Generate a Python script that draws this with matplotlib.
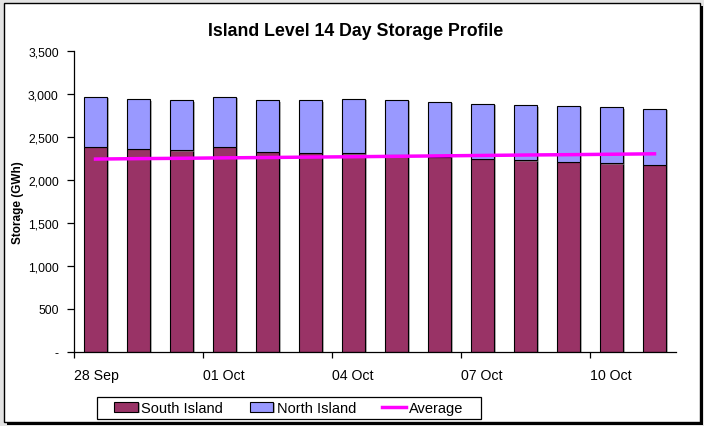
import matplotlib.pyplot as plt
import matplotlib.patheffects as pe
from matplotlib.patches import Rectangle
from matplotlib.ticker import FuncFormatter
import numpy as np

plt.rcParams['font.family'] = ['Liberation Sans', 'DejaVu Sans']

# --- dados ---
dias = ["28 Sep", "29 Sep", "30 Sep", "01 Oct", "02 Oct", "03 Oct", "04 Oct",
        "05 Oct", "06 Oct", "07 Oct", "08 Oct", "09 Oct", "10 Oct", "11 Oct"]
sul = [2382, 2359, 2340, 2382, 2321, 2313, 2306,
       2286, 2267, 2244, 2225, 2206, 2190, 2171]
total = [2964, 2937, 2921, 2964, 2921, 2925, 2941,
         2929, 2906, 2883, 2864, 2856, 2844, 2825]
media = [2240, 2245, 2249, 2254, 2258, 2263, 2267,
         2272, 2277, 2282, 2287, 2291, 2296, 2301]
rotulos_x = ["28 Sep", "01 Oct", "04 Oct", "07 Oct", "10 Oct"]

norte = np.array(total) - np.array(sul)
x = np.arange(len(dias)) + 0.5

fig = plt.figure(figsize=(7.04, 4.27), dpi=100)
fig.patch.set_facecolor('#e3e3e3')

# moldura branca com sombra
moldura = Rectangle((4 / 704, 4 / 427), 696 / 704, 419 / 427, transform=fig.transFigure,
                    facecolor='white', edgecolor='black', linewidth=1.0, zorder=-10,
                    path_effects=[pe.SimplePatchShadow(offset=(2, -2), shadow_rgbFace='black', alpha=1),
                                  pe.Normal()])
fig.patches.append(moldura)

ax = fig.add_axes([74 / 704, 1 - 352.7 / 427, (676 - 74) / 704, (352.7 - 51.7) / 427])
ax.set_facecolor('none')

sombra = [pe.SimplePatchShadow(offset=(1.5, -1), shadow_rgbFace='grey', alpha=0.6), pe.Normal()]
b1 = ax.bar(x, sul, width=0.52, color='#993366', edgecolor='black', linewidth=0.8,
            label='South Island', path_effects=sombra, zorder=2)
b2 = ax.bar(x, norte, bottom=sul, width=0.52, color='#9999ff', edgecolor='black', linewidth=0.8,
            label='North Island', path_effects=sombra, zorder=2)
l1, = ax.plot(x, media, color='#ff00ff', linewidth=2.5, label='Average', zorder=3)

ax.set_xlim(0, 14)
ax.set_ylim(0, 3500)
ax.set_yticks(np.arange(0, 3501, 500))
ax.yaxis.set_major_formatter(FuncFormatter(lambda v, p: '-' if v == 0 else f"{int(v):,}"))
ax.set_xticks([0, 3, 6, 9, 12])
ax.set_xticklabels(rotulos_x, ha='left')

for s in ['top', 'right']:
    ax.spines[s].set_visible(False)
ax.spines['left'].set_linewidth(0.9)
ax.spines['bottom'].set_linewidth(0.9)
ax.tick_params(axis='y', length=5, width=0.9, pad=6, labelsize=8.7)
ax.tick_params(axis='x', length=4, width=0.9, pad=8, labelsize=10.2)

ax.set_ylabel("Storage (GWh)", fontsize=8.5, fontweight='bold')
ax.yaxis.set_label_coords(-0.083, 0.5)

fig.text(0.505, 1 - 32 / 427, "Island Level 14 Day Storage Profile",
         ha='center', va='center', fontsize=12.8, fontweight='bold')

# legenda sem moldura + caixa desenhada a parte
fig.legend([b1, b2, l1], ['South Island', 'North Island', 'Average'],
           loc='center', bbox_to_anchor=(289 / 704, 1 - 409 / 427), ncol=3,
           fontsize=10.5, frameon=False,
           handlelength=1.6, handletextpad=0.25, columnspacing=1.8,
           borderpad=0.3)
caixa = Rectangle((97 / 704, 1 - 420 / 427), 384 / 704, 22 / 427, transform=fig.transFigure,
                  facecolor='white', edgecolor='black', linewidth=0.9, zorder=-5)
fig.patches.append(caixa)

plt.savefig('out.png', dpi=100, facecolor=fig.get_facecolor())
